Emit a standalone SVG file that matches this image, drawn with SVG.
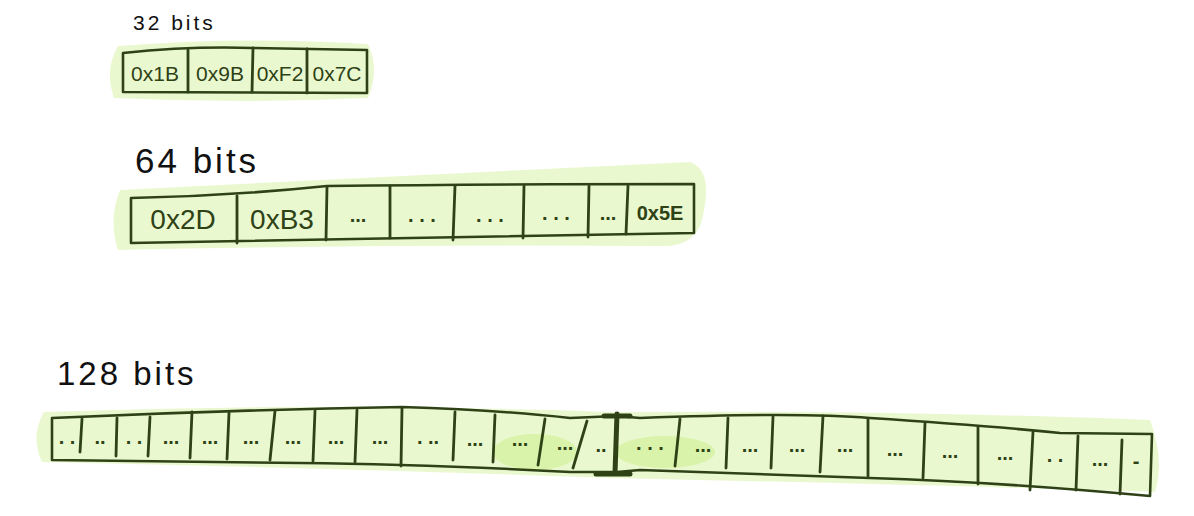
<svg xmlns="http://www.w3.org/2000/svg" width="1194" height="516" viewBox="0 0 1194 516">
<style>
.hl{fill:#eaf8d0;stroke:none}
.hl2{fill:#d6f1a0;stroke:none;opacity:0.8}
.box{fill:none;stroke:#2e4216;stroke-width:2.6;stroke-linecap:round;stroke-linejoin:round}
.div{fill:none;stroke:#2e4216;stroke-width:2.8;stroke-linecap:round}
.lbl{font-family:"Liberation Sans",Arial,sans-serif;fill:#111;letter-spacing:3px}
.cell{font-family:"Liberation Sans",Arial,sans-serif;fill:#2e4216;text-anchor:middle}
.dots{font-family:"Liberation Sans",Arial,sans-serif;fill:#2e4216;text-anchor:middle;font-size:20px;font-weight:bold}
</style>
<rect width="1194" height="516" fill="#ffffff"/>

<g id="array32">
  <path class="hl" d="M118,46 Q240,36 368,44 Q380,70 368,98 Q240,104 114,98 Q104,70 118,46 Z"/>
  <text class="lbl" x="133" y="30" font-size="21">32 bits</text>
  <path class="box" d="M123,53 Q190,46 253,48 Q310,49 367,50 L367,93 Q240,92 123,92 Z"/>
  <path class="div" d="M188,50 L188,92 M253,48 L252,92 M307,49 L307,93"/>
  <text class="cell" x="155" y="81" font-size="21">0x1B</text>
  <text class="cell" x="220" y="81" font-size="21">0x9B</text>
  <text class="cell" x="280" y="81" font-size="21">0xF2</text>
  <text class="cell" x="337" y="81" font-size="21">0x7C</text>
</g>

<g id="array64">
  <path class="hl" d="M120,190 Q400,176 690,162 Q712,170 704,210 Q700,248 660,246 Q400,244 118,250 Q108,220 120,190 Z"/>
  <text class="lbl" x="135" y="173" font-size="35">64 bits</text>
  <path class="box" d="M131,198 Q230,196 327,186 Q500,184 694,184 L694,233 Q500,236 131,243 Z"/>
  <path class="div" d="M237,196 L237,243 M327,187 L326,240 M390,186 L390,238 M455,186 L453,240 M524,186 L523,238 M589,186 L588,237 M628,186 L626,234"/>
  <text class="cell" x="183" y="229" font-size="28">0x2D</text>
  <text class="cell" x="282" y="229" font-size="28">0xB3</text>
  <text class="dots" x="358" y="222">...</text>
  <text class="dots" x="422" y="222">. . .</text>
  <text class="dots" x="490" y="222">. . .</text>
  <text class="dots" x="556" y="220">. . .</text>
  <text class="dots" x="608" y="220">...</text>
  <text class="cell" x="660" y="220" font-size="20" font-weight="bold">0x5E</text>
</g>

<g id="array128">
  <path class="hl" d="M44,412 Q330,402 610,412 Q900,410 1150,420 Q1165,460 1155,492 Q900,484 610,478 Q330,468 42,462 Q30,436 44,412 Z"/>
  <ellipse class="hl2" cx="535" cy="452" rx="42" ry="18"/>
  <ellipse class="hl2" cx="665" cy="452" rx="50" ry="16"/>
  <text class="lbl" x="57" y="385" font-size="33">128 bits</text>
  <path class="box" d="M52,418 Q230,410 402,407 Q500,410 570,418 L617,416 L640,418 Q800,412 870,418 Q980,425 1060,433 L1152,434 L1150,496 Q1000,482 870,478 L640,470 L617,472 L570,472 Q420,464 300,463 Q160,461 52,460 Z"/>
  <path class="div" d="M82,419 L80,452 M117,418 L116,456 M150,417 L148,456 M192,412 L190,458 M229,413 L227,459 M275,411 L270,460 M315,411 L313,461 M357,410 L355,462 M402,408 L401,466 M455,412 L453,460 M495,415 L493,462 M545,419 L538,465 M587,421 L573,468 M680,419 L675,466 M728,418 L726,468 M773,417 L771,468 M823,416 L820,472 M868,419 L868,476 M925,423 L923,478 M978,427 L978,484 M1033,432 L1030,490 M1078,436 L1076,490 M1122,440 L1120,494"/>
  <path d="M617,414 L615,473 M604,416 L630,416 M596,474 L630,474" fill="none" stroke="#2e4216" stroke-width="5" stroke-linecap="round"/>
  <text class="dots" x="67" y="444">. .</text>
  <text class="dots" x="100" y="444">..</text>
  <text class="dots" x="134" y="444">. .</text>
  <text class="dots" x="171" y="444">...</text>
  <text class="dots" x="210" y="444">...</text>
  <text class="dots" x="251" y="444">...</text>
  <text class="dots" x="293" y="444">...</text>
  <text class="dots" x="336" y="444">...</text>
  <text class="dots" x="380" y="444">...</text>
  <text class="dots" x="428" y="444">. ..</text>
  <text class="dots" x="475" y="446">...</text>
  <text class="dots" x="520" y="446">...</text>
  <text class="dots" x="565" y="450">...</text>
  <text class="dots" x="601" y="452">..</text>
  <text class="dots" x="650" y="450">. . .</text>
  <text class="dots" x="703" y="452">...</text>
  <text class="dots" x="750" y="452">...</text>
  <text class="dots" x="797" y="452">...</text>
  <text class="dots" x="845" y="452">...</text>
  <text class="dots" x="895" y="456">...</text>
  <text class="dots" x="950" y="458">...</text>
  <text class="dots" x="1005" y="460">...</text>
  <text class="dots" x="1055" y="462">. .</text>
  <text class="dots" x="1100" y="466">...</text>
  <text class="dots" x="1136" y="468">-</text>
</g>
</svg>
